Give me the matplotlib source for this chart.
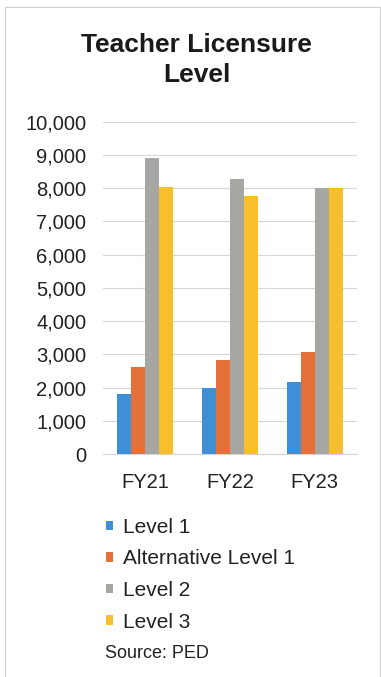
import matplotlib.pyplot as plt
from matplotlib.patches import Rectangle
import numpy as np

plt.rcParams['font.family'] = ['Liberation Sans', 'DejaVu Sans']

# licensed teachers per fiscal year, by level
years = ['FY21', 'FY22', 'FY23']
level_1 = [1800, 2000, 2180]
alt_level_1 = [2630, 2820, 3060]
level_2 = [8920, 8270, 7990]
level_3 = [8030, 7760, 8000]

series = [level_1, alt_level_1, level_2, level_3]
names = ['Level 1', 'Alternative Level 1', 'Level 2', 'Level 3']
colors = ['#3F8FD6', '#E46F38', '#A6A6A3', '#F7BF2E']

W, H = 381, 677
fig = plt.figure(figsize=(W / 100, H / 100), dpi=100)
fig.patch.set_facecolor('white')

# thin page border
fig.patches.append(Rectangle((5 / W, -0.01), (375 / W), 1 - 7 / H + 0.01,
                             transform=fig.transFigure, fill=False,
                             edgecolor='#CFCFCF', linewidth=0.8))

ax = fig.add_axes([103 / W, 1 - 454 / H, 254 / W, (454 - 121.7) / H])

x = np.arange(len(years))
bw = 0.165
handles = []
for i, (vals, c) in enumerate(zip(series, colors)):
    b = ax.bar(x + (i - 1.5) * bw, vals, width=bw, color=c, zorder=3)
    handles.append(b)

ax.set_xlim(-0.5, 2.5)
ax.set_ylim(0, 10000)
ax.set_yticks(range(0, 10001, 1000))
ax.set_yticklabels([f'{v:,}' for v in range(0, 10001, 1000)])
ax.set_xticks(x)
ax.set_xticklabels(years)
ax.tick_params(axis='both', length=0, labelsize=14.5, colors='#222222')
ax.tick_params(axis='y', pad=12)
ax.tick_params(axis='x', pad=14)
ax.grid(axis='y', color='#D6D6D6', linewidth=0.8, zorder=0)
for s in ['top', 'right', 'left']:
    ax.spines[s].set_visible(False)
ax.spines['bottom'].set_color('#D6D6D6')

fig.text(196.5 / W, 1 - 60 / H, 'Teacher Licensure\nLevel', ha='center',
         va='center', fontsize=19, fontweight='bold', color='#1A1A1A',
         linespacing=1.35)

fig.legend(handles, names, loc='upper left',
           bbox_to_anchor=(106 / W, 1 - 518 / H), frameon=False,
           fontsize=15, handlelength=0.35, handleheight=0.35,
           handletextpad=0.45, labelspacing=0.6, borderpad=0,
           borderaxespad=0, labelcolor='#222222')

fig.text(105 / W, 1 - 653 / H, 'Source: PED', ha='left', va='center',
         fontsize=13, color='#222222')

fig.savefig('out.png', dpi=100)
